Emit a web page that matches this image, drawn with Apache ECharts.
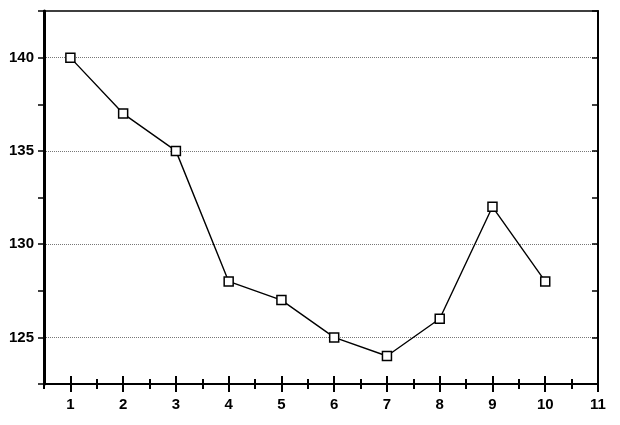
<!DOCTYPE html>
<html>
<head>
<meta charset="utf-8">
<script src="https://cdn.jsdelivr.net/npm/echarts@6/dist/echarts.min.js"></script>
<style>
  html, body { margin: 0; padding: 0; background: #fff; }
  #chart { width: 620px; height: 425px; }
</style>
</head>
<body>
<div id="chart"></div>
<script>
var xValues = [1, 2, 3, 4, 5, 6, 7, 8, 9, 10];
var yValues = [140, 137, 135, 128, 127, 125, 124, 126, 132, 128];
var xMajorTicks = [1, 2, 3, 4, 5, 6, 7, 8, 9, 10, 11];
var xMinorTicks = [0.5, 1.5, 2.5, 3.5, 4.5, 5.5, 6.5, 7.5, 8.5, 9.5, 10.5];
var yTickLabels = [125, 130, 135, 140];

var labelFont = { fontFamily: "Liberation Sans", fontWeight: "bold", fontSize: 15, color: "#000" };

function xAxisDef(ticks, len, inside, withLabels) {
  return {
    type: "value",
    position: "bottom",
    min: 0.5,
    max: 11,
    axisLine: { show: withLabels, lineStyle: { color: "#000", width: 2 } },
    axisTick: { show: true, inside: inside, length: len, customValues: ticks, lineStyle: { color: "#000", width: 2 } },
    axisLabel: Object.assign({ show: withLabels, margin: 13, customValues: xMajorTicks }, labelFont),
    splitLine: { show: false }
  };
}

var chart = echarts.init(document.getElementById("chart"));
var option = {
  animation: false,
  grid: {
    left: 44, right: 22, top: 11, bottom: 41,
    show: true, borderColor: "#000", borderWidth: 1.5, backgroundColor: "transparent"
  },
  xAxis: [
    xAxisDef(xMajorTicks, 8, false, true),
    xAxisDef(xMajorTicks, 8, true, false),
    xAxisDef(xMinorTicks, 5, false, false),
    xAxisDef(xMinorTicks, 5, true, false)
  ],
  yAxis: [
    {
      type: "value",
      position: "left",
      min: 122.5,
      max: 142.5,
      interval: 2.5,
      axisLine: { show: true, lineStyle: { color: "#000", width: 3 } },
      axisTick: { show: true, inside: false, length: 6, lineStyle: { color: "#000", width: 1.5 } },
      axisLabel: Object.assign({ margin: 10, customValues: yTickLabels }, labelFont),
      splitLine: {
        show: true,
        showMinLine: true,
        showMaxLine: true,
        lineStyle: { type: "dotted", width: 1, color: ["transparent", "#777"] }
      }
    },
    {
      type: "value",
      position: "right",
      min: 122.5,
      max: 142.5,
      interval: 2.5,
      axisLine: { show: true, lineStyle: { color: "#000", width: 2 } },
      axisTick: { show: true, inside: true, length: 6, lineStyle: { color: "#000", width: 1.5 } },
      axisLabel: { show: false },
      splitLine: { show: false }
    }
  ],
  series: [
    {
      type: "line",
      xAxisIndex: 0,
      yAxisIndex: 0,
      data: xValues.map(function (x, i) { return [x, yValues[i]]; }),
      symbol: "rect",
      symbolSize: 9,
      lineStyle: { color: "#000", width: 1.4 },
      itemStyle: { color: "#fff", borderColor: "#000", borderWidth: 1.5 }
    }
  ]
};
chart.setOption(option);
window.addEventListener("resize", function () { chart.resize(); });
</script>
</body>
</html>
